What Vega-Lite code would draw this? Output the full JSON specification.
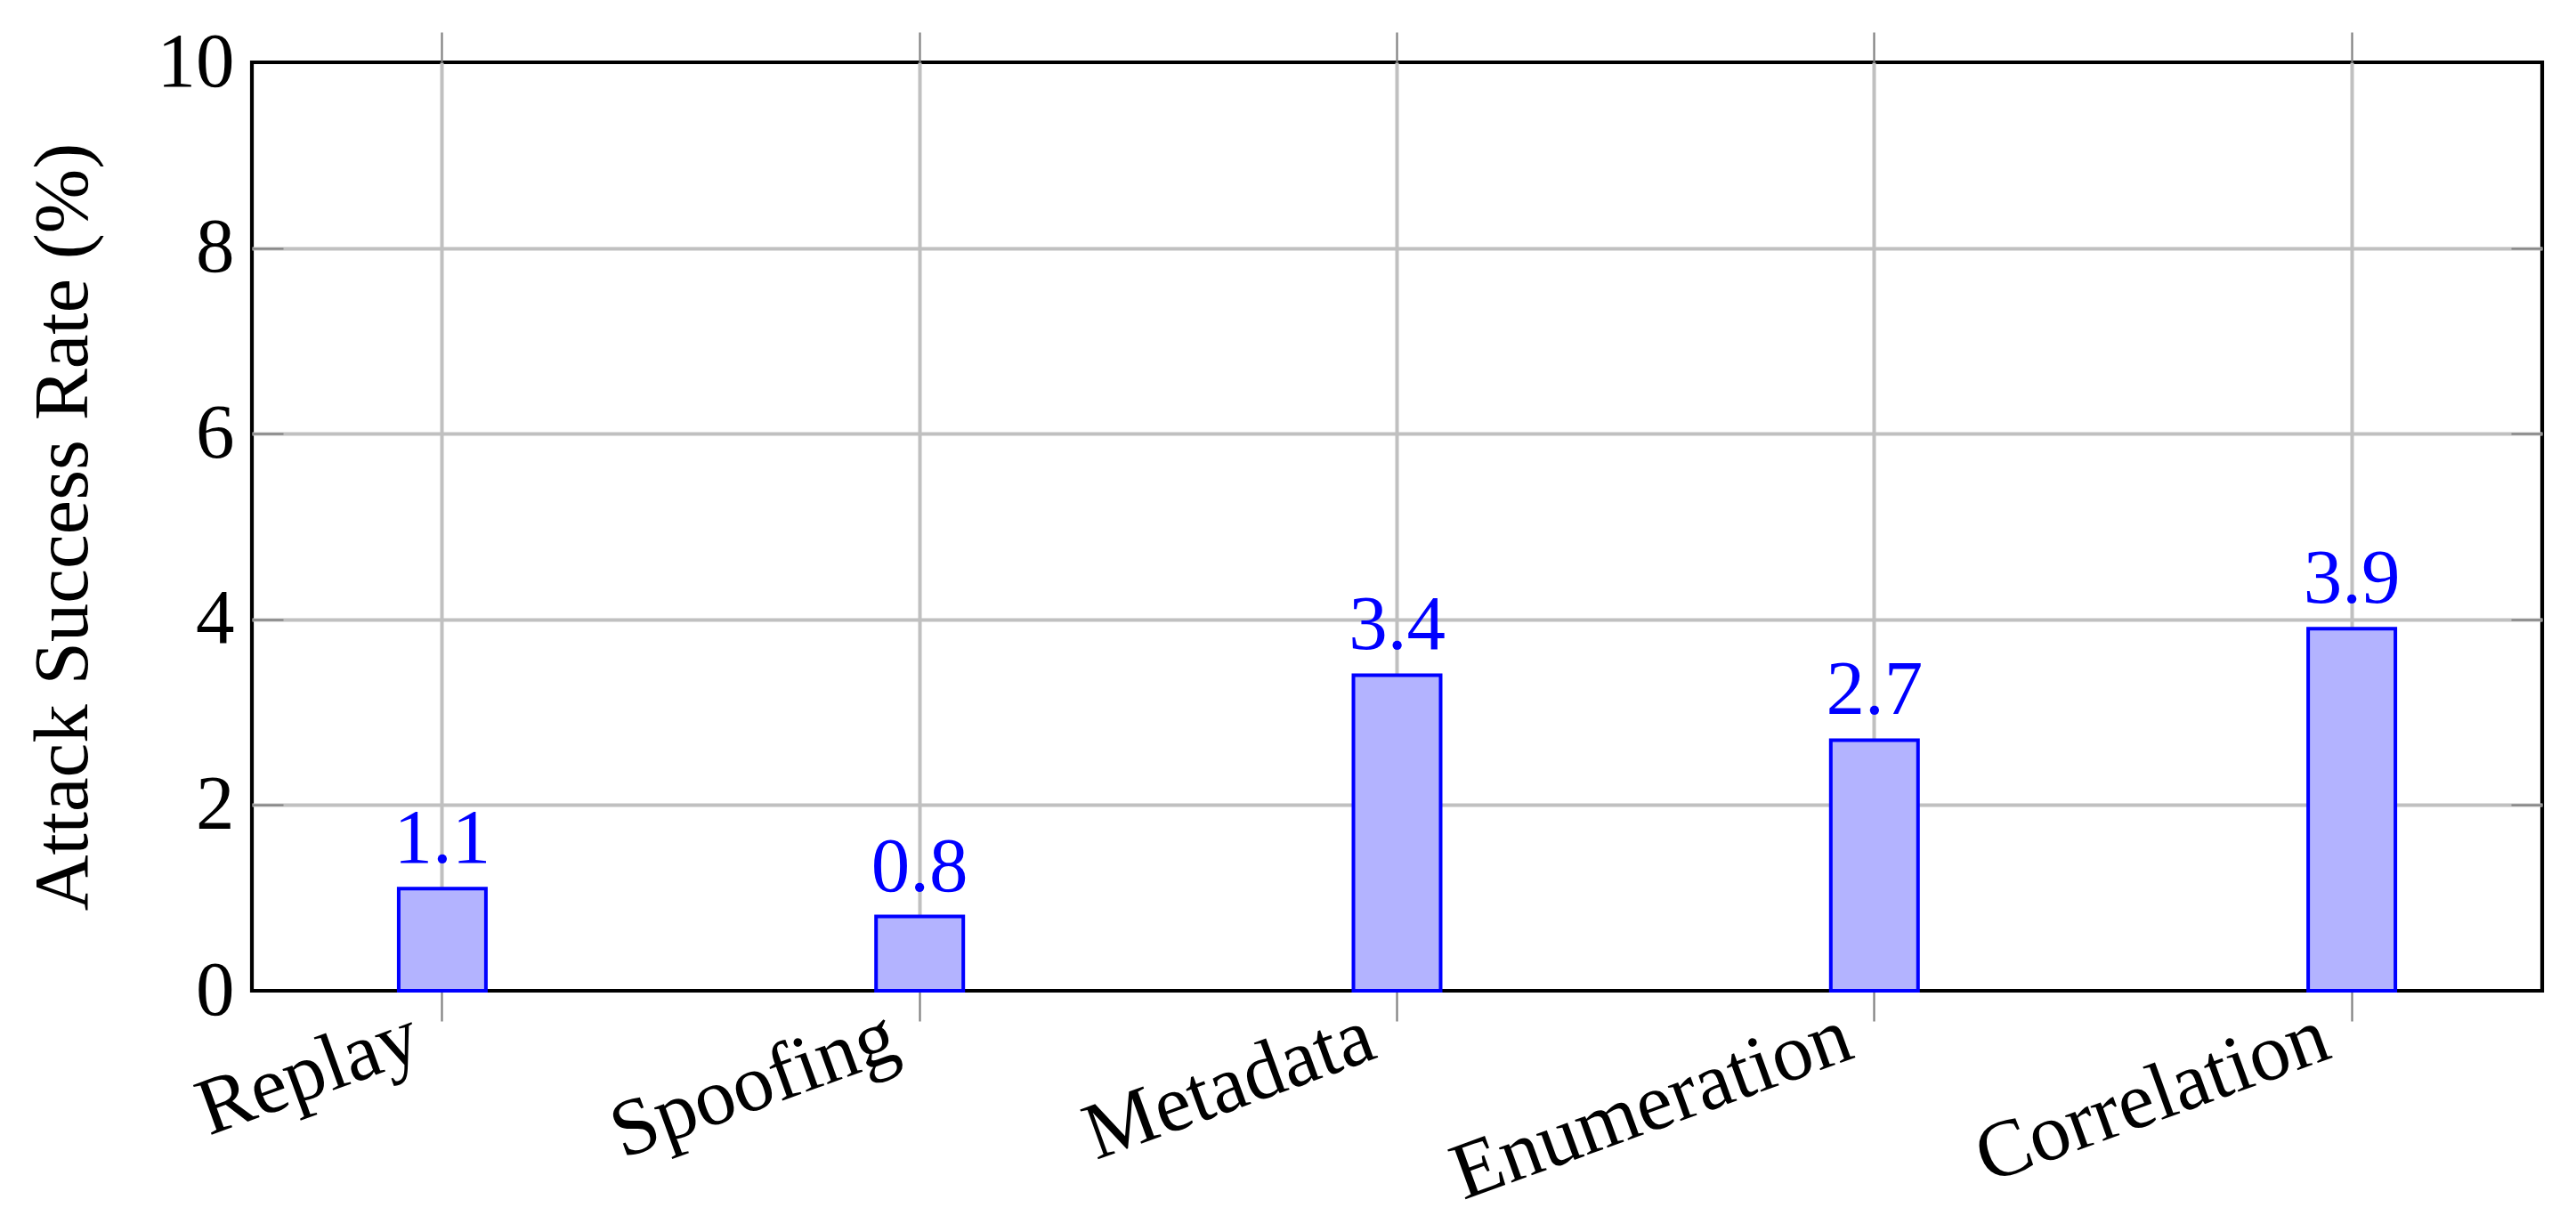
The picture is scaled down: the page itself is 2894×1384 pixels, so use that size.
{
  "$schema": "https://vega.github.io/schema/vega-lite/v6.json",
  "width": 2573,
  "height": 1043,
  "autosize": {"type": "none"},
  "padding": {"left": 283, "top": 70, "right": 38, "bottom": 271},
  "background": "white",
  "data": {
    "values": [
      {"attack": "Replay", "rate": 1.1},
      {"attack": "Spoofing", "rate": 0.8},
      {"attack": "Metadata", "rate": 3.4},
      {"attack": "Enumeration", "rate": 2.7},
      {"attack": "Correlation", "rate": 3.9}
    ]
  },
  "config": {
    "view": {"stroke": "black", "strokeWidth": 4.2},
    "font": "Liberation Serif",
    "axis": {
      "labelFont": "Liberation Serif",
      "titleFont": "Liberation Serif",
      "labelColor": "black",
      "titleColor": "black",
      "labelFontSize": 87,
      "titleFontSize": 87,
      "titleFontWeight": "normal",
      "labelLimit": 0,
      "tickColor": "#808080",
      "tickWidth": 2.2,
      "gridColor": "#c0c0c0",
      "gridWidth": 4,
      "domain": false
    }
  },
  "resolve": {"axis": {"x": "independent", "y": "independent"}},
  "layer": [
    {
      "mark": {"type": "bar", "fill": "#b3b3ff", "stroke": "#0000ff", "strokeWidth": 4},
      "encoding": {
        "x": {
          "field": "attack",
          "type": "nominal",
          "sort": null,
          "scale": {"paddingInner": 0.8173, "paddingOuter": 0.3075},
          "axis": {
            "orient": "bottom",
            "title": null,
            "labelFontSize": 91,
            "labelAngle": -20,
            "labelAlign": "right",
            "labelBaseline": "alphabetic",
            "labelPadding": 40,
            "labelOffset": -20,
            "tickSize": 34,
            "grid": true,
            "bandPosition": 0.5
          }
        },
        "y": {
          "field": "rate",
          "type": "quantitative",
          "scale": {"domain": [0, 10], "nice": false},
          "axis": {
            "orient": "left",
            "title": "Attack Success Rate (%)",
            "titleBaseline": "alphabetic",
            "titlePadding": 79,
            "values": [0, 2, 4, 6, 8, 10],
            "labelBaseline": "middle",
            "tickSize": -35,
            "labelPadding": 55,
            "grid": true,
            "gridColor": {"condition": {"test": "datum.value == 0 || datum.value == 10", "value": "transparent"}, "value": "#c0c0c0"},
            "tickColor": {"condition": {"test": "datum.value == 0 || datum.value == 10", "value": "transparent"}, "value": "#808080"}
          }
        }
      }
    },
    {
      "mark": {"type": "text", "color": "#0000ff", "fontSize": 87, "font": "Liberation Serif", "baseline": "alphabetic", "dy": -29},
      "encoding": {
        "x": {
          "field": "attack",
          "type": "nominal",
          "sort": null,
          "scale": {"paddingInner": 0.8173, "paddingOuter": 0.3075},
          "axis": {
            "orient": "top",
            "title": null,
            "labels": false,
            "tickSize": 34,
            "grid": false,
            "bandPosition": 0.5
          }
        },
        "y": {
          "field": "rate",
          "type": "quantitative",
          "scale": {"domain": [0, 10], "nice": false},
          "axis": {
            "orient": "right",
            "title": null,
            "labels": false,
            "values": [2, 4, 6, 8],
            "tickSize": -35,
            "grid": false
          }
        },
        "text": {"field": "rate", "type": "quantitative", "format": ".1f"}
      }
    }
  ]
}
